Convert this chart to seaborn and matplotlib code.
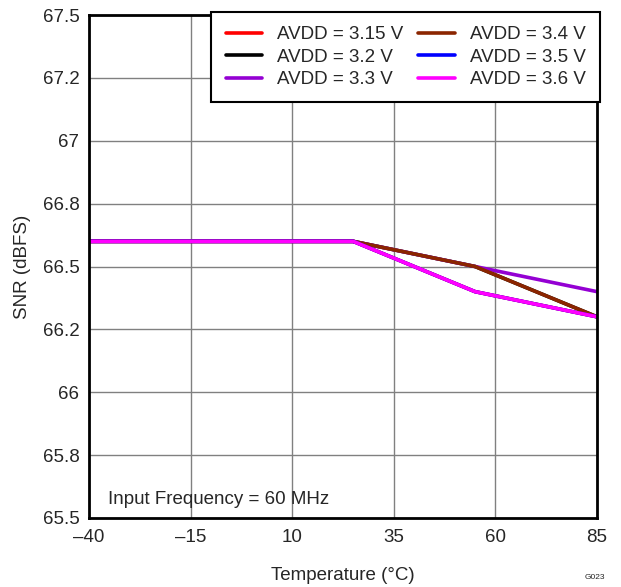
import numpy as np
import pandas as pd
import matplotlib
matplotlib.use("Agg")
import matplotlib.pyplot as plt
import seaborn as sns

#%% Data

temps = [-40, 25, 55, 85]
labels = ["AVDD = 3.15 V", "AVDD = 3.2 V", "AVDD = 3.3 V",
          "AVDD = 3.4 V", "AVDD = 3.5 V", "AVDD = 3.6 V"]
snr_315 = [66.6, 66.6, 66.4, 66.3]
snr_32 = [66.6, 66.6, 66.5, 66.3]
snr_33 = [66.6, 66.6, 66.5, 66.4]
snr_34 = [66.6, 66.6, 66.5, 66.3]
snr_35 = [66.6, 66.6, 66.4, 66.3]
snr_36 = [66.6, 66.6, 66.4, 66.3]
colors = ["#ff0000", "#000000", "#9400d3", "#8b2500", "#0000ff", "#ff00ff"]

x_ticks = [-40, -15, 10, 35, 60, 85]
x_labels = ["\u201340", "\u201315", "10", "35", "60", "85"]
y_ticks = [65.5, 65.75, 66, 66.25, 66.5, 66.75, 67, 67.25, 67.5]
y_labels = ["65.5", "65.8", "66", "66.2", "66.5", "66.8", "67", "67.2", "67.5"]

series = [snr_315, snr_32, snr_33, snr_34, snr_35, snr_36]
df = pd.concat([pd.DataFrame({"Temp": temps, "SNR": s, "AVDD": lab})
                for s, lab in zip(series, labels)], ignore_index=True)

#%% Plot

sns.set_style("white")
plt.rcParams["font.family"] = ["Liberation Sans", "DejaVu Sans"]
fs = 13.5

fig = plt.figure(figsize=(6.21, 5.87), dpi=100)
ax = fig.add_axes([89 / 621, 1 - 518 / 587, 508 / 621, 503 / 587])

sns.lineplot(data=df, x="Temp", y="SNR", hue="AVDD", hue_order=labels,
             palette=colors, linewidth=2.6, ax=ax, legend=False)

ax.set_xlim(-40, 85)
ax.set_ylim(65.5, 67.5)
ax.set_xticks(x_ticks)
ax.set_xticklabels(x_labels, fontsize=fs)
ax.set_yticks(y_ticks)
ax.set_yticklabels(y_labels, fontsize=fs)
ax.tick_params(axis="x", length=0, pad=8)
ax.tick_params(axis="y", length=0, pad=7)
ax.grid(True, color="#808080", linewidth=1)
ax.set_axisbelow(True)
for sp in ax.spines.values():
    sp.set_color("black")
    sp.set_linewidth(2)

ax.set_xlabel("Temperature (\u00b0C)", fontsize=fs, labelpad=15)
ax.set_ylabel("SNR (dBFS)", fontsize=fs, labelpad=8)

handles = [plt.Line2D([], [], color=c, linewidth=2.6) for c in colors]
leg = ax.legend(handles, labels, ncol=2, loc="upper right", fontsize=fs,
                frameon=True, fancybox=False, framealpha=1, edgecolor="black",
                borderaxespad=-0.15, handlelength=1.95, handletextpad=0.8,
                columnspacing=0.8, labelspacing=0.28, borderpad=0.75)
leg.get_frame().set_linewidth(1.5)

ax.text(0.037, 0.02, "Input Frequency = 60 MHz", transform=ax.transAxes,
        fontsize=fs, ha="left", va="bottom")
fig.text(0.975, 0.01, "G023", fontsize=6, ha="right", va="bottom")

fig.savefig("out.png", dpi=100)
